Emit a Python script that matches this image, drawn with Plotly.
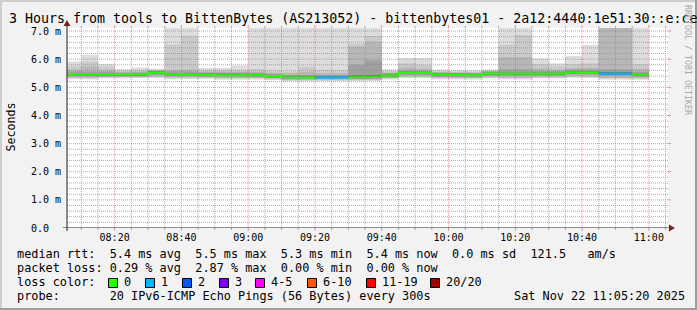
import plotly.graph_objects as go
import pandas as pd

# ---------------- data ----------------
bin_start = pd.date_range("2025-11-22 08:05", periods=35, freq="5min")

median_ms = [5.47, 5.46, 5.48, 5.46, 5.46, 5.52, 5.47, 5.47, 5.45, 5.44,
             5.43, 5.43, 5.40, 5.36, 5.35, 5.35, 5.35, 5.35, 5.37, 5.42,
             5.51, 5.51, 5.45, 5.44, 5.43, 5.49, 5.48, 5.49, 5.49, 5.49,
             5.53, 5.53, 5.49, 5.49, 5.45]
loss_pings = [0, 0, 0, 0, 0, 0, 0, 0, 0, 0,
              0, 0, 0, 0, 0, 1, 1, 0, 0, 0,
              0, 0, 0, 0, 0, 0, 0, 0, 0, 0,
              0, 0, 1, 1, 0]
p20 = [5.92, 6.16, 5.83, 5.65, 5.70, 5.66, 8.0, 8.0, 5.69, 5.69,
       5.77, 8.0, 8.0, 8.0, 8.0, 8.0, 8.0, 8.0, 8.0, 5.64,
       6.04, 6.04, 5.63, 5.60, 5.60, 5.63, 8.0, 8.0, 6.03, 5.85,
       6.11, 6.50, 8.0, 8.0, 8.0]
p19 = [5.75, 5.91, 5.74, 5.59, 5.62, 5.63, 6.51, 6.81, 5.62, 5.60,
       5.62, 5.65, 5.60, 5.56, 5.73, 5.62, 5.60, 6.55, 6.82, 5.58,
       5.85, 5.80, 5.57, 5.56, 5.56, 5.60, 6.51, 6.86, 5.83, 5.74,
       5.82, 5.85, 8.0, 8.0, 5.83]
p18 = [5.62, 5.74, 5.61, 5.55, 5.57, 5.60, 5.62, 5.62, 5.56, 5.55,
       5.55, 5.55, 5.52, 5.50, 5.55, 5.50, 5.50, 6.45, 6.62, 5.53,
       5.70, 5.66, 5.54, 5.53, 5.53, 5.58, 6.07, 6.07, 5.68, 5.62,
       5.68, 5.70, 8.0, 8.0, 5.65]
p16 = [5.56, 5.58, 5.56, 5.52, 5.53, 5.58, 5.56, 5.56, 5.53, 5.51,
       5.51, 5.51, 5.48, 5.45, 5.45, 5.44, 5.44, 5.80, 5.95, 5.50,
       5.60, 5.59, 5.52, 5.51, 5.50, 5.56, 5.64, 5.64, 5.60, 5.58,
       5.62, 5.62, 5.64, 5.64, 5.55]
p13 = [5.51, 5.50, 5.52, 5.50, 5.50, 5.56, 5.51, 5.51, 5.49, 5.48,
       5.47, 5.47, 5.44, 5.40, 5.39, 5.39, 5.39, 5.42, 5.44, 5.46,
       5.55, 5.55, 5.49, 5.48, 5.47, 5.53, 5.54, 5.55, 5.53, 5.53,
       5.57, 5.57, 5.54, 5.54, 5.49]
p8 = [5.43, 5.42, 5.44, 5.42, 5.42, 5.48, 5.43, 5.43, 5.41, 5.40,
      5.39, 5.39, 5.36, 5.32, 5.31, 5.31, 5.31, 5.31, 5.33, 5.38,
      5.47, 5.47, 5.41, 5.40, 5.39, 5.45, 5.44, 5.45, 5.45, 5.45,
      5.49, 5.49, 5.45, 5.45, 5.41]
p5 = [5.40, 5.39, 5.41, 5.39, 5.39, 5.45, 5.40, 5.40, 5.38, 5.37,
      5.36, 5.36, 5.33, 5.29, 5.28, 5.28, 5.28, 5.28, 5.30, 5.35,
      5.44, 5.44, 5.38, 5.37, 5.36, 5.42, 5.41, 5.42, 5.42, 5.42,
      5.46, 5.46, 5.42, 5.42, 5.38]
p3 = [5.36, 5.34, 5.37, 5.38, 5.37, 5.39, 5.35, 5.36, 5.36, 5.33,
      5.35, 5.34, 5.31, 5.27, 5.26, 5.26, 5.27, 5.26, 5.28, 5.34,
      5.39, 5.39, 5.35, 5.34, 5.34, 5.37, 5.35, 5.34, 5.37, 5.37,
      5.40, 5.39, 5.34, 5.35, 5.33]
p2 = [5.33, 5.31, 5.34, 5.35, 5.34, 5.36, 5.32, 5.33, 5.33, 5.30,
      5.32, 5.31, 5.28, 5.24, 5.23, 5.23, 5.24, 5.23, 5.25, 5.31,
      5.36, 5.36, 5.32, 5.31, 5.31, 5.34, 5.32, 5.31, 5.34, 5.34,
      5.37, 5.36, 5.31, 5.32, 5.30]
p1 = [5.30, 5.28, 5.31, 5.32, 5.31, 5.33, 5.29, 5.30, 5.30, 5.27,
      5.29, 5.28, 5.25, 5.21, 5.20, 5.20, 5.21, 5.20, 5.22, 5.28,
      5.33, 5.33, 5.29, 5.28, 5.28, 5.31, 5.29, 5.28, 5.31, 5.31,
      5.34, 5.33, 5.28, 5.29, 5.27]

x_tick_labels = ["08:20", "08:40", "09:00", "09:20", "09:40", "10:00", "10:20", "10:40", "11:00"]
y_tick_vals = [0, 1, 2, 3, 4, 5, 6, 7]
y_tick_labels = ["0.0\u00a0\u00a0", "1.0\u00a0m", "2.0\u00a0m", "3.0\u00a0m", "4.0\u00a0m",
                 "5.0\u00a0m", "6.0\u00a0m", "7.0\u00a0m"]
loss_labels = ["0", "1", "2", "3", "4-5", "6-10", "11-19", "20/20"]
loss_colors = ["#26ff00", "#00b8ff", "#0059ff", "#7e00ff", "#ff00ff", "#ff5500", "#ff0000", "#a10000"]

title_text = "3 Hours from tools to BittenBytes (AS213052) - bittenbytes01 - 2a12:4440:1e51:30::e:ce"
row_rtt = "median rtt:  5.4 ms avg  5.5 ms max  5.3 ms min  5.4 ms now  0.0 ms sd  121.5   am/s"
row_loss = "packet loss: 0.29 % avg  2.87 % max  0.00 % min  0.00 % now"
row_color = "loss color:"
row_probe = "probe:       20 IPv6-ICMP Echo Pings (56 Bytes) every 300s"
stamp = "Sat Nov 22 11:05:20 2025"

# ---------------- layout geometry ----------------
W, H = 697, 310
PL, PR, PT, PB = 67, 668, 28, 228
X0 = pd.Timestamp("2025-11-22 08:05:44")
X1 = pd.Timestamp("2025-11-22 11:05:44")
YMAX = 7.107
MONO = "DejaVu Sans Mono"


def pxx(px):
    return (px - PL) / (PR - PL)


def pxy(py):
    return (PB - py) / (PB - PT)


n = len(bin_start)
edges = list(bin_start) + [bin_start[-1] + pd.Timedelta(minutes=5)]

fig = go.Figure()

# smoke bands
bands = [(p1, p20, "#dddddd"), (p2, p19, "#cacaca"), (p3, p18, "#b7b7b7"),
         (p5, p16, "#a0a0a0"), (p8, p13, "#6e6e6e")]
for lo, hi, col in bands:
    xs, ys = [], []
    for i in range(n):
        xs += [edges[i], edges[i + 1]]
        ys += [hi[i], hi[i]]
    for i in reversed(range(n)):
        xs += [edges[i + 1], edges[i]]
        ys += [lo[i], lo[i]]
    fig.add_trace(go.Scatter(x=xs, y=ys, mode="lines", fill="toself", fillcolor=col,
                             line=dict(width=0), hoverinfo="skip", showlegend=False))

# grid lines (drawn above smoke)
minor_col = "rgba(143,143,143,0.75)"
major_col = "rgba(222,79,79,0.6)"


def hlines(vals, col):
    xs, ys = [], []
    for v in vals:
        xs += [X0, X1, None]
        ys += [v, v, None]
    fig.add_trace(go.Scatter(x=xs, y=ys, mode="lines", line=dict(color=col, width=1, dash="1px,1px"),
                             hoverinfo="skip", showlegend=False))


def vlines(times, col):
    xs, ys = [], []
    for t in times:
        xs += [t, t, None]
        ys += [0, YMAX, None]
    fig.add_trace(go.Scatter(x=xs, y=ys, mode="lines", line=dict(color=col, width=1, dash="1px,1px"),
                             hoverinfo="skip", showlegend=False))


minor_y = [k * 0.2 for k in range(1, 36) if k % 5 != 0]
major_y = [1, 2, 3, 4, 5, 6, 7]
five_min = pd.date_range("2025-11-22 08:10", "2025-11-22 11:05", freq="5min")
major_x = pd.date_range("2025-11-22 08:20", "2025-11-22 11:00", freq="20min")
minor_x = [t for t in five_min if t.minute % 20 != 0]
hlines(minor_y, minor_col)
vlines(minor_x, minor_col)
hlines(major_y, major_col)
vlines(list(major_x), major_col)

# median line coloured by loss
for lv in sorted(set(loss_pings)):
    xs, ys = [], []
    prev = False
    for i in range(n):
        if loss_pings[i] == lv:
            if not prev and xs:
                xs.append(None)
                ys.append(None)
            xs += [edges[i], edges[i + 1]]
            ys += [median_ms[i], median_ms[i]]
            prev = True
        else:
            prev = False
    fig.add_trace(go.Scatter(x=xs, y=ys, mode="lines", line=dict(color=loss_colors[lv], width=2),
                             hoverinfo="skip", showlegend=False))

shapes = []
# tick marks at grid ends
for t in minor_x:
    shapes.append(dict(type="line", xref="x", yref="paper", x0=t, x1=t, y0=pxy(PB), y1=pxy(PB + 2),
                       line=dict(color=minor_col, width=1)))
    shapes.append(dict(type="line", xref="x", yref="paper", x0=t, x1=t, y0=pxy(PT), y1=pxy(PT - 2),
                       line=dict(color=minor_col, width=1)))
for t in major_x:
    shapes.append(dict(type="line", xref="x", yref="paper", x0=t, x1=t, y0=pxy(PB), y1=pxy(PB + 3),
                       line=dict(color=major_col, width=1)))
    shapes.append(dict(type="line", xref="x", yref="paper", x0=t, x1=t, y0=pxy(PT), y1=pxy(PT - 3),
                       line=dict(color=major_col, width=1)))
for v in major_y:
    shapes.append(dict(type="line", xref="paper", yref="y", x0=pxx(PR), x1=pxx(PR + 3), y0=v, y1=v,
                       line=dict(color=major_col, width=1)))

# axes with arrows
axis_col = "#1f1f1f"
arrow_col = "#801f1f"
shapes.append(dict(type="line", xref="paper", yref="y", x0=pxx(63), x1=pxx(670), y0=0, y1=0,
                   line=dict(color=axis_col, width=1)))
shapes.append(dict(type="line", xref="paper", yref="paper", x0=pxx(PL), x1=pxx(PL), y0=pxy(231), y1=pxy(24),
                   line=dict(color=axis_col, width=1)))
shapes.append(dict(type="path", xref="paper", yref="paper",
                   path=f"M {pxx(67)},{pxy(20)} L {pxx(63.5)},{pxy(26)} L {pxx(70.5)},{pxy(26)} Z",
                   fillcolor=arrow_col, line=dict(width=0)))
shapes.append(dict(type="path", xref="paper", yref="paper",
                   path=f"M {pxx(675)},{pxy(228)} L {pxx(669)},{pxy(224.5)} L {pxx(669)},{pxy(231.5)} Z",
                   fillcolor=arrow_col, line=dict(width=0)))

# frame shading
shapes.append(dict(type="rect", xref="paper", yref="paper", x0=pxx(0), x1=pxx(W), y0=pxy(0), y1=pxy(2),
                   fillcolor="#cecece", line=dict(width=0)))
shapes.append(dict(type="rect", xref="paper", yref="paper", x0=pxx(0), x1=pxx(2), y0=pxy(0), y1=pxy(H),
                   fillcolor="#cecece", line=dict(width=0)))
shapes.append(dict(type="rect", xref="paper", yref="paper", x0=pxx(W - 2), x1=pxx(W), y0=pxy(0), y1=pxy(H),
                   fillcolor="#9e9e9e", line=dict(width=0)))
shapes.append(dict(type="rect", xref="paper", yref="paper", x0=pxx(0), x1=pxx(W), y0=pxy(H - 2), y1=pxy(H),
                   fillcolor="#9e9e9e", line=dict(width=0)))

# loss colour boxes
loss_text_x = [123, 160, 197, 234, 270, 322, 381, 445]
for tx, col in zip(loss_text_x, loss_colors):
    bx = tx - 15
    shapes.append(dict(type="rect", xref="paper", yref="paper", x0=pxx(bx + 0.5), x1=pxx(bx + 9.5),
                       y0=pxy(278.5), y1=pxy(287.5), fillcolor=col, line=dict(color="black", width=1)))

annotations = []


def ann(px, py, text, size, anchor="left", color="black", angle=0):
    annotations.append(dict(xref="paper", yref="paper", x=pxx(px), y=pxy(py), text=text,
                            xanchor=anchor, yanchor="middle", showarrow=False, borderpad=0,
                            textangle=angle, font=dict(family=MONO, size=size, color=color)))


def nb(s):
    return s.replace(" ", "\u00a0")


ann(8, 18.5, nb(title_text), 13.3)
ann(10, 127.5, "Seconds", 11.6, anchor="center", angle=-90)
ann(688, 60, nb("RRDTOOL / TOBI OETIKER"), 8.3, anchor="center", color="#a8a8a8", angle=90)
LEG = 11.85
ann(16, 254.3, nb(row_rtt), LEG)
ann(16, 268.3, nb(row_loss), LEG)
ann(16, 282.3, nb(row_color), LEG)
for tx, lab in zip(loss_text_x, loss_labels):
    ann(tx, 282.3, lab, LEG)
ann(16, 296.0, nb(row_probe), LEG)
ann(513, 296.0, nb(stamp), LEG)

fig.update_layout(
    width=W, height=H, autosize=False,
    margin=dict(l=PL, r=W - PR, t=PT, b=H - PB, pad=0),
    paper_bgcolor="#f2f2f2", plot_bgcolor="#ffffff",
    showlegend=False,
    shapes=shapes, annotations=annotations,
    xaxis=dict(type="date", range=[X0, X1], tickvals=list(major_x), ticktext=x_tick_labels,
               showgrid=False, zeroline=False, showline=False, ticks="",
               tickfont=dict(family=MONO, size=10, color="black"), ticklabelstandoff=2,
               fixedrange=True),
    yaxis=dict(range=[0, YMAX], tickvals=y_tick_vals, ticktext=y_tick_labels,
               showgrid=False, zeroline=False, showline=False, ticks="",
               tickfont=dict(family=MONO, size=10, color="black"), ticklabelstandoff=5,
               fixedrange=True),
)

fig.write_html("out.html", config={"displayModeBar": False})
